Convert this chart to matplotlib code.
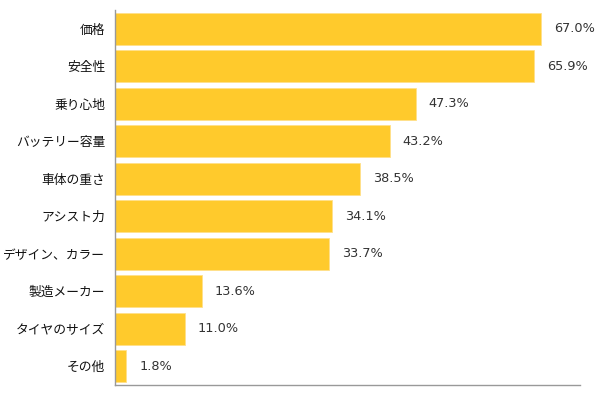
import matplotlib.pyplot as plt
import numpy as np

plt.rcParams['font.family'] = ['Noto Sans CJK JP', 'DejaVu Sans']

categories = ['価格', '安全性', '乗り心地', 'バッテリー容量', '車体の重さ',
              'アシスト力', 'デザイン、カラー', '製造メーカー', 'タイヤのサイズ', 'その他']
values = [67.0, 65.9, 47.3, 43.2, 38.5, 34.1, 33.7, 13.6, 11.0, 1.8]

fig = plt.figure(figsize=(6, 3.94), dpi=100)
ax = fig.add_axes([115 / 600, 1 - 385 / 394, 465 / 600, 375 / 394])

y = np.arange(len(categories))
ax.barh(y, values, height=0.85, color='#FFCA2C', edgecolor='#FFE08A', linewidth=0.6)

for yi, v in zip(y, values):
    ax.text(v + 2.0, yi, f'{v:.1f}%', va='center', ha='left', fontsize=9.3,
            color='#333333', family='DejaVu Sans')

ax.set_yticks(y)
ax.set_yticklabels(categories, fontsize=9.2, color='#111111')
ax.set_ylim(len(categories) - 0.5, -0.5)
ax.set_xlim(0, 73.1)
ax.set_xticks([])
ax.tick_params(axis='y', length=0, pad=7)

for s in ['top', 'right']:
    ax.spines[s].set_visible(False)
for s in ['left', 'bottom']:
    ax.spines[s].set_color('#999999')
    ax.spines[s].set_linewidth(1)

fig.savefig('out.png', dpi=100)
